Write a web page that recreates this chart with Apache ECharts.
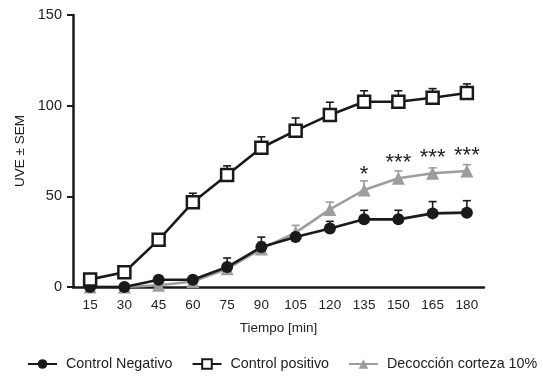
<!DOCTYPE html>
<html>
<head>
<meta charset="utf-8">
<script src="https://cdn.jsdelivr.net/npm/echarts@6/dist/echarts.min.js"></script>
<style>html,body{margin:0;padding:0;background:#fff;}#c{width:543px;height:378px;}</style>
</head>
<body>
<div id="c"></div>
<script>
const categories = ['15','30','45','60','75','90','105','120','135','150','165','180'];
const negativo = [0, 0, 4, 4, 11, 22, 27.6, 32.2, 37.3, 37.3, 40.6, 41];
const negativoErr = [0, 0, 1, 1, 5, 5.5, 2, 4, 5, 5, 6.5, 6.6];
const positivo = [4.2, 8.1, 26, 46.7, 61.8, 76.8, 86.2, 94.9, 102.2, 102.2, 104.4, 107];
const positivoErr = [1, 1, 2, 5, 5, 6, 7, 7, 6, 6, 5, 5];
const decoccion = [0, 0, 1, 3, 10, 21, 30, 42.8, 53.5, 60, 62.7, 64];
const decoccionErr = [0, 0, 0, 0, 2, 4, 4, 4, 5, 4, 3, 3.5];
const significance = ['', '', '', '', '', '', '', '', '*', '***', '***', '***'];
const yTicks = [0, 50, 100, 150];
const names = ['Control Negativo', 'Control positivo', 'Decocción corteza 10%'];

const FONT = 'Liberation Sans';
const BLACK = '#1a1a1a';
const GRAY = '#9d9d9d';

function errSeries(vals, errs, color, z) {
  return {
    type: 'custom',
    z: z,
    silent: true,
    encode: { x: 0, y: 1 },
    data: vals.map((v, i) => [i, v, errs[i]]),
    renderItem: function (params, api) {
      const x = api.value(0), y = api.value(1), e = api.value(2);
      const p0 = api.coord([x, y]);
      const p1 = api.coord([x, y + e]);
      return {
        type: 'group',
        children: [
          { type: 'line', shape: { x1: p0[0], y1: p0[1], x2: p1[0], y2: p1[1] }, style: { stroke: color, lineWidth: 1.6 } },
          { type: 'line', shape: { x1: p1[0] - 4, y1: p1[1], x2: p1[0] + 4, y2: p1[1] }, style: { stroke: color, lineWidth: 1.6 } }
        ]
      };
    }
  };
}

const chart = echarts.init(document.getElementById('c'));
chart.setOption({
  animation: false,
  backgroundColor: '#fff',
  grid: { left: 73, right: 59, top: 15, bottom: 91, containLabel: false },
  xAxis: {
    type: 'category',
    data: categories,
    boundaryGap: true,
    name: 'Tiempo [min]',
    nameLocation: 'middle',
    nameGap: 34,
    nameTextStyle: { fontFamily: FONT, fontSize: 13.5, color: '#222' },
    axisLine: { lineStyle: { color: BLACK, width: 2.5 } },
    axisTick: { alignWithLabel: true, length: 6, lineStyle: { color: BLACK, width: 2 } },
    axisLabel: { fontFamily: FONT, fontSize: 13.5, color: '#222', margin: 11 },
    splitLine: { show: false }
  },
  yAxis: {
    type: 'value',
    min: 0, max: 150, interval: 50,
    name: 'UVE ± SEM',
    nameLocation: 'middle',
    nameGap: 42,
    nameTextStyle: { fontFamily: FONT, fontSize: 13.5, color: '#222' },
    axisLine: { show: true, lineStyle: { color: BLACK, width: 2.5 } },
    axisTick: { show: true, length: 6, lineStyle: { color: BLACK, width: 2 } },
    axisLabel: { fontFamily: FONT, fontSize: 14.5, color: '#222', margin: 11,
      formatter: function (v) { return yTicks.indexOf(v) >= 0 ? String(v) : ''; } },
    splitLine: { show: false }
  },
  legend: {
    data: names,
    left: 22,
    top: 352,
    itemWidth: 29,
    itemHeight: 12,
    itemGap: 19,
    textStyle: { fontFamily: FONT, fontSize: 14.3, color: '#222', padding: [0, 0, 0, 4] }
  },
  series: [
    errSeries(decoccion, decoccionErr, GRAY, 1),
    errSeries(negativo, negativoErr, BLACK, 3),
    errSeries(positivo, positivoErr, BLACK, 5),
    {
      name: names[2],
      type: 'line',
      z: 2,
      data: decoccion,
      symbol: 'triangle',
      symbolSize: 13,
      itemStyle: { color: GRAY },
      lineStyle: { color: GRAY, width: 2.5 },
      label: {
        show: true,
        position: 'top',
        distance: -2,
        fontFamily: FONT,
        fontSize: 22,
        color: '#222',
        formatter: function (p) { return significance[p.dataIndex]; }
      }
    },
    {
      name: names[0],
      type: 'line',
      z: 4,
      data: negativo,
      symbol: 'circle',
      symbolSize: 12,
      itemStyle: { color: BLACK },
      lineStyle: { color: BLACK, width: 2.6 }
    },
    {
      name: names[1],
      type: 'line',
      z: 6,
      data: positivo,
      symbol: 'rect',
      symbolSize: 12,
      itemStyle: { color: '#fff', borderColor: BLACK, borderWidth: 2.5 },
      lineStyle: { color: BLACK, width: 2.6 }
    }
  ]
});
</script>
</body>
</html>
